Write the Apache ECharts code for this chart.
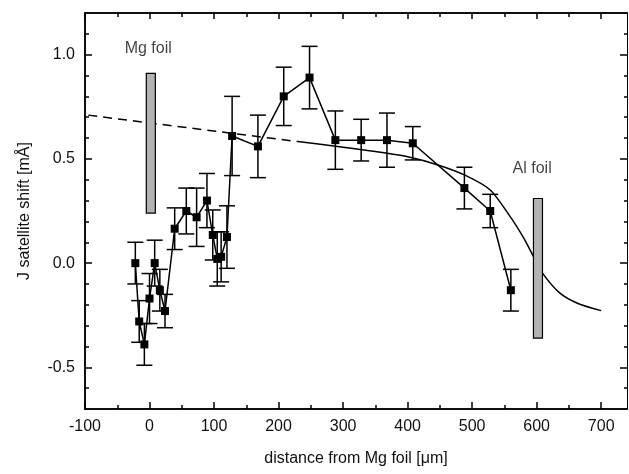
<!DOCTYPE html>
<html>
<head>
<meta charset="utf-8">
<script src="https://cdn.jsdelivr.net/npm/echarts@6/dist/echarts.min.js"></script>
<style>html,body{margin:0;padding:0;background:#fff;}#c{width:629px;height:474px;}</style>
</head>
<body>
<div id="c"></div>
<script>
// ---- data ----
const xData = [-22, -16, -8, 0, 8, 16, 24, 39, 57, 73, 89, 98, 105, 111, 120, 128, 168, 208, 248, 288, 328, 368, 408, 488, 528, 560];
const yData = [0.00, -0.28, -0.39, -0.17, 0.00, -0.13, -0.23, 0.165, 0.25, 0.22, 0.30, 0.135, 0.02, 0.03, 0.125, 0.61, 0.56, 0.80, 0.89, 0.59, 0.59, 0.59, 0.575, 0.36, 0.25, -0.13];
const yErr = [0.10, 0.10, 0.10, 0.12, 0.11, 0.10, 0.08, 0.10, 0.11, 0.14, 0.13, 0.12, 0.13, 0.12, 0.15, 0.19, 0.15, 0.14, 0.15, 0.14, 0.10, 0.13, 0.08, 0.10, 0.08, 0.10];
const dashX = [-95, 230];
const dashY = [0.71, 0.583];
const fitX = [230, 300, 350, 400, 447, 488, 528, 559, 580, 595, 609, 636, 665, 700];
const fitY = [0.583, 0.556, 0.535, 0.51, 0.471, 0.423, 0.351, 0.223, 0.12, 0.032, -0.048, -0.144, -0.195, -0.228];
const mgFoil = [-5, 9, 0.24, 0.91];
const alFoil = [595, 609, -0.36, 0.31];
const labels = [{name: 'Mg foil', x: -2, y: 1.03}, {name: 'Al foil', x: 593, y: 0.455}];
const xMajor = [-100, 0, 100, 200, 300, 400, 500, 600, 700];
const xMinor = [-50, 50, 150, 250, 350, 450, 550, 650];
const yMajor = [-0.5, 0.0, 0.5, 1.0];
const yMinor = [-0.6, -0.4, -0.3, -0.2, -0.1, 0.1, 0.2, 0.3, 0.4, 0.6, 0.7, 0.8, 0.9, 1.1];
const xRange = [-100, 740];
const yRange = [-0.7, 1.2];

const FONT = 'Liberation Sans';
const TXT = '#111';

function xAx(pos, ticks, len, opts) {
  return Object.assign({
    type: 'value', position: pos, min: xRange[0], max: xRange[1],
    axisLine: {show: true, onZero: false, lineStyle: {color: '#000', width: 1.5}},
    axisTick: {show: true, inside: true, length: len, customValues: ticks, lineStyle: {color: '#000', width: 1.5}},
    axisLabel: {show: false},
    splitLine: {show: false}
  }, opts || {});
}
function yAx(pos, ticks, len, opts) {
  return Object.assign({
    type: 'value', position: pos, min: yRange[0], max: yRange[1],
    axisLine: {show: true, onZero: false, lineStyle: {color: '#000', width: 1.5}},
    axisTick: {show: true, inside: true, length: len, customValues: ticks, lineStyle: {color: '#000', width: 1.5}},
    axisLabel: {show: false},
    splitLine: {show: false}
  }, opts || {});
}

const xAxes = [
  xAx('bottom', xMajor, 7, {
    axisLabel: {show: true, customValues: xMajor, color: TXT, fontFamily: FONT, fontSize: 16, margin: 10},
    name: 'distance from Mg foil [μm]', nameLocation: 'middle', nameGap: 42,
    nameTextStyle: {color: TXT, fontFamily: FONT, fontSize: 16}
  }),
  xAx('bottom', xMinor, 4),
  xAx('top', xMajor, 6),
  xAx('top', xMinor, 4)
];
const yAxes = [
  yAx('left', yMajor, 7, {
    axisLabel: {show: true, customValues: yMajor, color: TXT, fontFamily: FONT, fontSize: 16, margin: 10,
      formatter: v => Number(v).toFixed(1)},
    name: 'J satellite shift [mÅ]', nameLocation: 'middle', nameGap: 52,
    nameTextStyle: {color: TXT, fontFamily: FONT, fontSize: 16}
  }),
  yAx('left', yMinor, 4),
  yAx('right', yMajor, 7, {axisLine: {show: true, onZero: false, lineStyle: {color: '#000', width: 1}}}),
  yAx('right', yMinor, 3, {axisLine: {show: false, onZero: false}})
];

const pts = xData.map((x, i) => [x, yData[i]]);
const errs = xData.map((x, i) => [x, yData[i], yErr[i]]);

function rectItem(params, api) {
  const p0 = api.coord([api.value(0), api.value(3)]);
  const p1 = api.coord([api.value(1), api.value(2)]);
  return {type: 'rect', shape: {x: p0[0], y: p0[1], width: p1[0] - p0[0], height: p1[1] - p0[1]},
    style: {fill: '#b3b3b3', stroke: '#000', lineWidth: 1.2}};
}

const option = {
  animation: false,
  backgroundColor: '#fff',
  grid: {left: 85, right: 2, top: 13, bottom: 65, containLabel: false},
  xAxis: xAxes,
  yAxis: yAxes,
  series: [
    {type: 'line', data: dashX.map((x, i) => [x, dashY[i]]), symbol: 'none', z: 2,
      lineStyle: {color: '#000', width: 1.5, type: [9, 6]}},
    {type: 'line', data: fitX.map((x, i) => [x, fitY[i]]), symbol: 'none', smooth: 0.25, z: 2,
      lineStyle: {color: '#000', width: 1.5}},
    {type: 'custom', z: 3, encode: {x: 0, y: 1}, data: errs,
      renderItem: function (params, api) {
        const x = api.value(0), y = api.value(1), e = api.value(2);
        const t = api.coord([x, y + e]), b = api.coord([x, y - e]);
        const hw = 8, st = {stroke: '#000', lineWidth: 1.5};
        return {type: 'group', children: [
          {type: 'line', shape: {x1: t[0], y1: t[1], x2: b[0], y2: b[1]}, style: st},
          {type: 'line', shape: {x1: t[0] - hw, y1: t[1], x2: t[0] + hw, y2: t[1]}, style: st},
          {type: 'line', shape: {x1: b[0] - hw, y1: b[1], x2: b[0] + hw, y2: b[1]}, style: st}
        ]};
      }},
    {type: 'line', data: pts, symbol: 'rect', symbolSize: 8, z: 4,
      itemStyle: {color: '#000'}, lineStyle: {color: '#000', width: 1.5}},
    {type: 'custom', z: 6, encode: {x: [0, 1], y: [2, 3]}, data: [mgFoil, alFoil], renderItem: rectItem},
    {type: 'scatter', z: 7, symbolSize: 0, data: labels.map(l => ({name: l.name, value: [l.x, l.y]})),
      label: {show: true, position: 'inside', formatter: p => p.name, color: TXT, fontFamily: FONT, fontSize: 16}}
  ]
};
const chart = echarts.init(document.getElementById('c'));
chart.setOption(option);
</script>
</body>
</html>
